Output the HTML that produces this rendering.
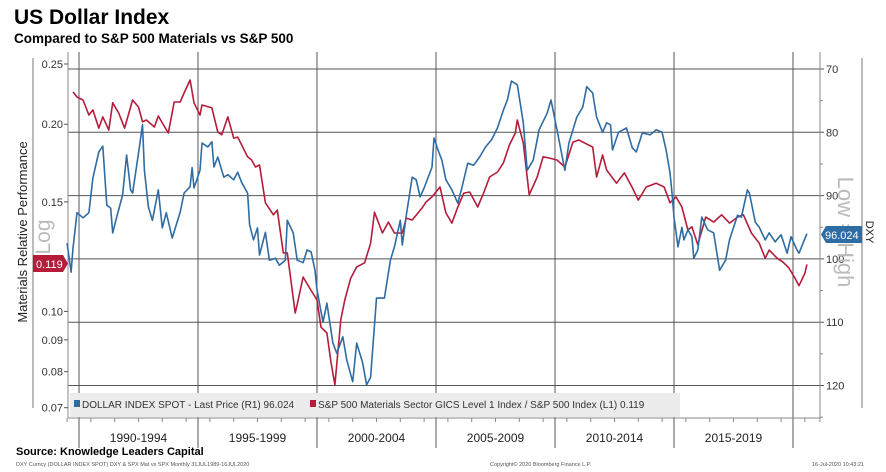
<!DOCTYPE html>
<html><head><meta charset="utf-8">
<style>
body{margin:0;background:#fff;}
svg{display:block;font-family:"Liberation Sans",sans-serif;}
</style></head>
<body>
<svg id="chart" width="886" height="472" viewBox="0 0 886 472">
<text x="14" y="24" font-size="21" font-weight="bold" fill="#000">US Dollar Index</text>
<text x="14" y="43" font-size="13.5" font-weight="bold" fill="#000">Compared to S&amp;P 500 Materials vs S&amp;P 500</text>
<g id="grid"></g>
<g id="axes"></g>
<rect x="70" y="393" width="610" height="24" fill="#ececec"/>
<g id="series"></g>
<g>
<rect x="74" y="400" width="6" height="7" fill="#2e6ca4"/>
<text x="82" y="408" font-size="10" fill="#333">DOLLAR INDEX SPOT - Last Price (R1) 96.024</text>
<rect x="310" y="400" width="6" height="7" fill="#b51c3a"/>
<text x="318" y="408" font-size="10" fill="#333">S&amp;P 500 Materials Sector GICS Level 1 Index / S&amp;P 500 Index (L1) 0.119</text>
</g>
<text transform="translate(27,232) rotate(-90)" text-anchor="middle" font-size="13" fill="#222">Materials Relative Performance</text>
<text transform="translate(50,237) rotate(-90)" text-anchor="middle" font-size="21" fill="#bbb">Log</text>
<text transform="translate(838,232) rotate(90)" text-anchor="middle" font-size="22" fill="#bbb">Low = High</text>
<text transform="translate(866,232) rotate(90)" text-anchor="middle" font-size="11" fill="#222">DXY</text>
<path d="M33,255 H63 L68,263.5 L63,272 H33 Z" fill="#b51c3a"/>
<text x="36" y="268" font-size="11" fill="#fff">0.119</text>
<path d="M826,226 H862 V243 H826 L821,234.5 Z" fill="#2e6ca4"/>
<text x="825" y="239" font-size="11" fill="#fff">96.024</text>
<text x="16" y="455" font-size="11" font-weight="bold" fill="#000">Source: Knowledge Leaders Capital</text>
<text x="16" y="466" font-size="5.5" fill="#555">DXY Curncy (DOLLAR INDEX SPOT) DXY &amp; SPX Mat vs SPX  Monthly 31JUL1989-16JUL2020</text>
<text x="490" y="466" font-size="5.5" fill="#555">Copyright© 2020 Bloomberg Finance L.P.</text>
<text x="812" y="466" font-size="5.5" fill="#555">16-Jul-2020 10:43:21</text>
</svg>
<script>
// months since Jan 1990
const dxyMonths=[-6,-4,-3,-1,2,5,7,10,12,14,16,17,19,22,24,26,27,30,32,33,35,37,40,42,44,47,51,53,56,57,58,61,62,65,67,68,70,73,75,78,80,82,85,86,88,90,91,94,96,99,101,104,105,108,110,113,115,117,119,120,123,125,128,130,133,135,138,140,143,145,147,150,154,157,159,162,163,165,168,170,172,174,178,179,181,183,185,188,191,193,196,199,202,205,208,211,214,216,218,221,224,226,229,232,236,238,241,245,247,251,254,256,259,261,264,266,268,269,272,276,279,281,284,288,291,294,296,298,299,300,302,304,305,307,309,310,312,314,317,320,323,326,328,332,334,337,338,341,343,346,348,351,354,357,359,362,363,367];
const dxyValues=[97.5,102.1,98.3,92.7,93.5,92.7,87.2,83.1,82.2,91.5,92.0,95.9,93.4,89.9,83.6,89.1,89.6,83.3,78.8,86.0,91.8,93.9,89.1,95.1,92.7,96.7,92.6,89.6,88.6,85.6,88.8,86.0,81.7,82.3,81.5,85.5,83.9,87.1,86.7,87.5,86.3,87.9,89.6,94.6,97.0,95.1,99.4,95.8,100.2,99.9,101.0,100.2,93.9,95.9,100.2,100.6,98.6,98.9,101.8,104.9,110.0,107.0,113.3,114.9,112.3,116.0,119.4,113.3,116.4,119.9,118.7,106.2,106.2,100.2,98.1,93.9,97.8,93.1,87.1,87.5,90.2,88.8,85.5,80.9,82.8,84.4,87.5,89.1,91.2,88.8,84.9,85.2,83.9,82.3,81.2,79.3,76.5,74.9,71.9,72.5,78.5,86.0,84.4,79.6,77.0,74.9,79.6,86.0,81.7,77.6,76.0,72.8,73.8,77.6,80.0,78.5,78.8,82.8,80.0,79.3,82.5,83.1,80.1,80.4,79.6,80.0,82.8,86.4,89.6,93.4,98.1,95.0,97.0,95.4,96.5,99.9,98.6,93.4,95.4,95.9,101.8,100.2,97.0,93.1,93.4,89.1,89.6,94.2,95.0,97.0,95.9,97.3,96.2,99.1,96.5,98.6,99.1,96.024];
const matMonths=[-3,-1,2,5,7,10,12,15,17,20,23,27,30,32,34,38,40,42,45,48,51,53,56,58,61,62,67,70,72,75,78,80,85,87,89,91,94,98,100,103,105,109,110,113,116,120,122,125,127,129,132,134,137,140,144,147,149,153,156,159,163,165,168,173,175,178,182,185,188,191,194,197,201,204,207,211,214,217,220,221,224,227,231,234,237,241,245,249,252,255,259,261,264,266,271,275,279,282,286,291,295,298,301,304,307,309,312,316,320,324,328,332,335,339,343,346,348,352,355,358,361,363,366,367];
const matValues=[0.2254,0.2212,0.2188,0.207,0.2108,0.1972,0.2055,0.1958,0.2165,0.2085,0.1972,0.2188,0.2132,0.2018,0.2032,0.198,0.2062,0.201,0.1936,0.2172,0.2172,0.2245,0.2356,0.2165,0.207,0.2148,0.2125,0.1943,0.1923,0.2055,0.19,0.1907,0.1773,0.1752,0.1707,0.172,0.1495,0.143,0.1455,0.1242,0.1242,0.0994,0.1026,0.1136,0.1094,0.1043,0.0943,0.0923,0.083,0.0762,0.097,0.1043,0.1131,0.1179,0.1197,0.1287,0.1444,0.1337,0.1392,0.1337,0.1337,0.1413,0.1403,0.1467,0.15,0.1528,0.1585,0.144,0.1387,0.1472,0.155,0.1556,0.1472,0.155,0.1645,0.1676,0.1733,0.1852,0.1936,0.2032,0.1865,0.154,0.1645,0.1773,0.1765,0.1752,0.1707,0.1872,0.1887,0.1865,0.1838,0.1645,0.1785,0.1688,0.1608,0.167,0.158,0.151,0.1585,0.1608,0.1585,0.1495,0.1528,0.1472,0.1352,0.1368,0.128,0.1418,0.1392,0.143,0.1387,0.1418,0.143,0.1337,0.1287,0.1218,0.1255,0.1218,0.12,0.1174,0.1131,0.11,0.1152,0.119];
const leftTicks=[0.25,0.20,0.15,0.10,0.09,0.08,0.07];
const leftTickLabels=["0.25","0.20","0.15","0.10","0.09","0.08","0.07"];
const rightTicks=[70,80,90,100,110,120];
const periodBounds=[0,60,120,180,240,300,360];
const periodLabels=["1990-1994","1995-1999","2000-2004","2005-2009","2010-2014","2015-2019"];

const NS="http://www.w3.org/2000/svg";
const X0=79, PXM=714/360;
const xs=m=>X0+m*PXM;
const yR=v=>69+(v-70)*6.33;
const yL=v=>64+270*Math.log(0.25/v);
const PL=68, PR=820, PT=52, PB=418;
function mk(tag,attrs,parent){const e=document.createElementNS(NS,tag);for(const k in attrs)e.setAttribute(k,attrs[k]);parent.appendChild(e);return e;}
const grid=document.getElementById('grid'), axes=document.getElementById('axes'), series=document.getElementById('series');

rightTicks.forEach(v=>{
  const l=mk('line',{x1:PL,x2:PR+4,y1:yR(v),y2:yR(v),stroke:'#555','stroke-width':1},grid);
  
  
  const t=mk('text',{x:PR+6,y:yR(v)+4,'font-size':11,fill:'#333'},axes);
  t.textContent=v;
  
  
});
for(let v=75;v<=125;v+=10){mk('line',{x1:PR,x2:PR+3,y1:yR(v),y2:yR(v),stroke:'#888'},axes);}
periodBounds.forEach(m=>{
  const l=mk('line',{x1:xs(m),x2:xs(m),y1:PT,y2:448,stroke:'#555','stroke-width':1},grid);
  
  
});
periodLabels.forEach((s,i)=>{
  const t=mk('text',{x:(xs(periodBounds[i])+xs(periodBounds[i+1]))/2,y:442,'font-size':12,'text-anchor':'middle',fill:'#222'},axes);
  t.textContent=s;
  
  
});
for(let m=-6;m<=366;m+=12){mk('line',{x1:xs(m),x2:xs(m),y1:PB,y2:PB+4,stroke:'#888'},axes);}
mk('line',{x1:PL,x2:PR,y1:PB,y2:PB,stroke:'#888'},axes);
mk('line',{x1:PL,x2:PL,y1:PT,y2:PB,stroke:'#888'},axes);
mk('line',{x1:PR,x2:PR,y1:PT,y2:PB+4,stroke:'#888'},axes);
mk('line',{x1:33,x2:33,y1:58,y2:408,stroke:'#777'},axes);
mk('line',{x1:862,x2:862,y1:58,y2:408,stroke:'#777'},axes);
leftTicks.forEach((v,i)=>{
  mk('line',{x1:64,x2:68,y1:yL(v),y2:yL(v),stroke:'#555'},axes);
  const t=mk('text',{x:63,y:yL(v)+4,'font-size':11,'text-anchor':'end',fill:'#333'},axes);
  t.textContent=leftTickLabels[i];
  
  
});
function path(ms,vs,yf,color,name){
  const d=ms.map((m,i)=>(i?'L':'M')+xs(m).toFixed(1)+','+yf(vs[i]).toFixed(1)).join('');
  const p=mk('path',{d:d,fill:'none',stroke:color,'stroke-width':1.6,'stroke-linejoin':'round'},series);
  
  
}
path(matMonths,matValues,yL,'#b51c3a','materials-relative-line');
path(dxyMonths,dxyValues,yR,'#2e6ca4','dxy-line');
</script>
</body></html>
